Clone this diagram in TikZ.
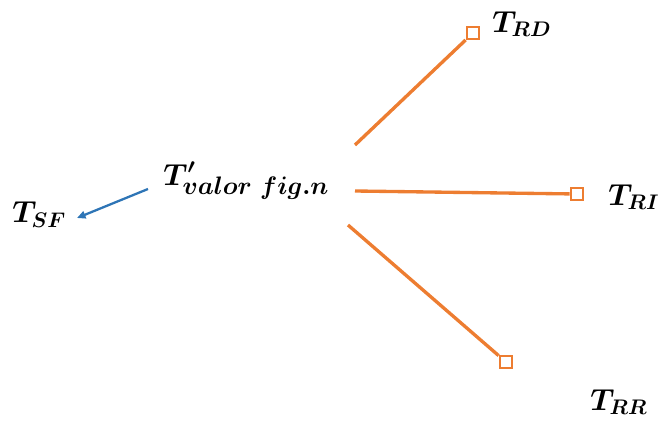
\documentclass[tikz,border=0pt]{standalone}
\usepackage{bm}
\usetikzlibrary{arrows.meta}
\definecolor{rayorange}{RGB}{237,125,49}
\definecolor{arrowblue}{RGB}{46,117,182}
\begin{document}
\begin{tikzpicture}[
  rayline/.style={draw=rayorange, line width=1.9pt},
  endsq/.style={draw=rayorange, fill=white, line width=1.3pt, minimum size=0.25cm, inner sep=0pt},
  lbl/.style={font=\LARGE, inner sep=0pt, anchor=base west}]
\useasboundingbox (0,0) rectangle (13.24,8.42);

\node[lbl] (tsf) at (0.24,3.96) {$\bm{T_{SF}}$};
\node[lbl] (tval) at (3.26,4.72) {$\bm{T}^{\bm{\prime}}_{\mbox{\Large$\bm{valor\ fig.n}$}}$};
\coordinate (arrS) at (2.96,4.64);
\coordinate (arrE) at (1.54,4.06);
\draw[arrowblue, line width=1.3pt, -{Triangle[length=0.17cm, width=0.15cm]}] (arrS) -- (arrE);

\coordinate (rdS) at (7.10,5.52);
\coordinate (riS) at (7.10,4.60);
\coordinate (rrS) at (6.96,3.92);
\node[endsq] (sqD) at (9.46,7.76) {};
\node[endsq] (sqI) at (11.54,4.54) {};
\node[endsq] (sqR) at (10.12,1.18) {};
\draw[rayline] (rdS) -- (sqD);
\draw[rayline] (riS) -- (sqI);
\draw[rayline] (rrS) -- (sqR);

\node[lbl] (trd) at (9.84,7.78) {$\bm{T_{RD}}$};
\node[lbl] (tri) at (12.16,4.32) {$\bm{T_{RI}}$};
\node[lbl] (trr) at (11.80,0.22) {$\bm{T_{RR}}$};
\end{tikzpicture}
\end{document}
